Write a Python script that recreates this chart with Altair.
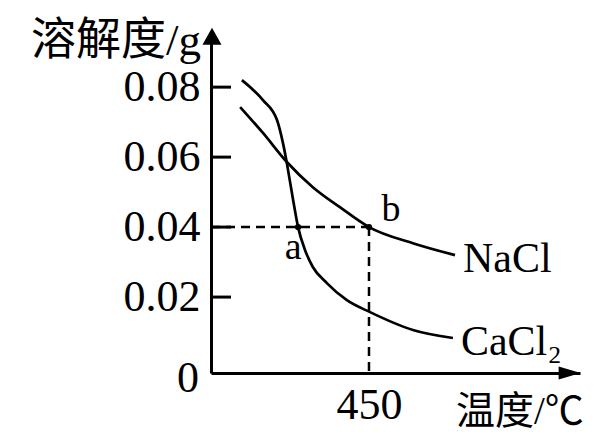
import altair as alt
import pandas as pd

# ---- data ----
temp_cacl2 = [88, 148, 188, 205, 216, 225, 234, 248, 268, 290, 330, 387, 453, 575, 689]
sol_cacl2 = [0.0820, 0.0763, 0.0706, 0.0640, 0.0583, 0.0530, 0.0477, 0.0400,
             0.0334, 0.0286, 0.0240, 0.0191, 0.0157, 0.0106, 0.0083]
temp_nacl = [83, 148, 216, 290, 367, 450, 575, 695]
sol_nacl = [0.0743, 0.0669, 0.0586, 0.0514, 0.0457, 0.0400, 0.0354, 0.0320]
y_ticks = [0.02, 0.04, 0.06, 0.08]
x_ticks = [450]
point_names = ["a", "b"]
point_temp = [248, 450]
point_sol = [0.04, 0.04]
series_names = ["NaCl", "CaCl₂"]

X_DOMAIN = [0, 1051]
Y_DOMAIN = [-0.0017, 0.0949]
W, H = 369, 338
FONT = "Liberation Serif, Noto Sans CJK SC"
FS = 42
TFS = 44

curves = pd.DataFrame(
    [{"series": "CaCl₂", "temp": t, "sol": s} for t, s in zip(temp_cacl2, sol_cacl2)]
    + [{"series": "NaCl", "temp": t, "sol": s} for t, s in zip(temp_nacl, sol_nacl)]
)
ends = pd.DataFrame({
    "series": series_names,
    "temp": [temp_nacl[-1], temp_cacl2[-1]],
    "sol": [sol_nacl[-1], sol_cacl2[-1]],
})
pts = pd.DataFrame({"name": point_names, "temp": point_temp, "sol": point_sol})
bpt = pts[pts["name"] == "b"].assign(t0=0)
ticks = pd.DataFrame({"v": y_ticks})
origin = pd.DataFrame({"t": ["0"], "temp": [0], "sol": [0]})

xs = alt.Scale(domain=X_DOMAIN, nice=False, zero=False)
ys = alt.Scale(domain=Y_DOMAIN, nice=False, zero=False)

X = alt.X("temp:Q", scale=xs, axis=alt.Axis(
    values=x_ticks, title=None, tickSize=0, labelFontSize=TFS, labelFont=FONT,
    labelColor="#000", domainColor="#000", domainWidth=3, labelPadding=10,
    grid=False, labelFlush=False))
Y = alt.Y("sol:Q", scale=ys, axis=alt.Axis(
    values=y_ticks, title=None, tickSize=0, labelFontSize=TFS, labelFont=FONT,
    labelColor="#000", domainColor="#000", domainWidth=3, labelPadding=11,
    grid=False, format=".2f", labelFlush=False))

lines = alt.Chart(curves).mark_line(interpolate="monotone", color="#000", strokeWidth=2.7).encode(
    x=X, y=Y, detail="series:N"
)

tick_marks = alt.Chart(ticks).mark_rule(color="#000", strokeWidth=3).encode(
    y=alt.Y("v:Q", scale=ys), x=alt.value(0), x2=alt.value(20)
)

hdash = alt.Chart(bpt).mark_rule(color="#000", strokeWidth=2.5, strokeDash=[9, 6]).encode(
    x=alt.X("t0:Q", scale=xs), x2="temp:Q", y=alt.Y("sol:Q", scale=ys)
)
vdash = alt.Chart(bpt).mark_rule(color="#000", strokeWidth=2.5, strokeDash=[9, 6]).encode(
    x=alt.X("temp:Q", scale=xs), y=alt.Y("sol:Q", scale=ys), y2=alt.value(H)
)

dots = alt.Chart(pts).mark_circle(color="#000", size=40, opacity=1).encode(
    x=alt.X("temp:Q", scale=xs), y=alt.Y("sol:Q", scale=ys)
)
label_a = alt.Chart(pts[pts["name"] == "a"]).mark_text(
    font=FONT, fontSize=38, color="#000", dx=-5, dy=21
).encode(x=alt.X("temp:Q", scale=xs), y=alt.Y("sol:Q", scale=ys), text="name:N")
label_b = alt.Chart(bpt).mark_text(
    font=FONT, fontSize=38, color="#000", dx=22, dy=-17
).encode(x=alt.X("temp:Q", scale=xs), y=alt.Y("sol:Q", scale=ys), text="name:N")

series_lbl = alt.Chart(ends).mark_text(
    font=FONT, fontSize=FS, color="#000", align="left", dx=8, dy=4
).encode(x=alt.X("temp:Q", scale=xs), y=alt.Y("sol:Q", scale=ys), text="series:N")

zero_lbl = alt.Chart(origin).mark_text(
    font=FONT, fontSize=TFS, color="#000", align="right", dx=-12, dy=12
).encode(x=alt.X("temp:Q", scale=xs), y=alt.Y("sol:Q", scale=ys), text="t:N")

y_title = alt.Chart(pd.DataFrame({"t": ["溶解度/g"]})).mark_text(
    font=FONT, fontSize=45, color="#000", align="right", baseline="middle"
).encode(x=alt.value(-10), y=alt.value(6), text="t:N")
x_title = alt.Chart(pd.DataFrame({"t": ["温度/℃"]})).mark_text(
    font=FONT, fontSize=39, color="#000", align="left", baseline="middle"
).encode(x=alt.value(245), y=alt.value(377), text="t:N")

arrow_up = alt.Chart(pd.DataFrame({"k": [1]})).mark_point(
    shape="M0,-1L0.84,0.5L-0.84,0.5Z", filled=True, color="#000", size=513, opacity=1, strokeWidth=0
).encode(x=alt.value(1), y=alt.value(4))
arrow_right = alt.Chart(pd.DataFrame({"k": [1]})).mark_point(
    shape="M1,0L-0.5,-0.44L-0.5,0.44Z", filled=True, color="#000", size=864, opacity=1, strokeWidth=0
).encode(x=alt.value(355), y=alt.value(H))

chart = alt.layer(
    lines, tick_marks, hdash, vdash, dots, label_a, label_b, series_lbl,
    zero_lbl, y_title, x_title, arrow_up, arrow_right
).properties(
    width=W, height=H, autosize="none",
    padding={"left": 203, "top": 27, "right": 8, "bottom": 62},
    background="white",
).configure_view(strokeWidth=0)

chart.save("out.html", embed_options={"renderer": "svg", "actions": False})
